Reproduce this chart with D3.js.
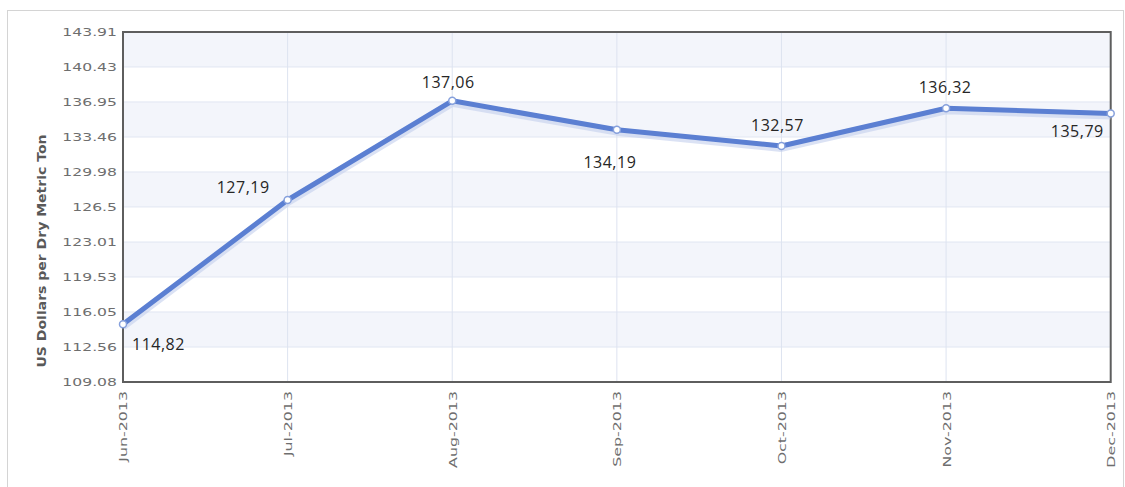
<!DOCTYPE html>
<html>
<head>
<meta charset="utf-8">
<script src="https://cdn.jsdelivr.net/npm/d3@7"></script>
<style>
  body { margin: 0; background: #fff; }
</style>
</head>
<body>
<script>
// data
var months = ["Jun-2013", "Jul-2013", "Aug-2013", "Sep-2013", "Oct-2013", "Nov-2013", "Dec-2013"];
var prices = [114.82, 127.19, 137.06, 134.19, 132.57, 136.32, 135.79];
var yTicks = [109.08, 112.56, 116.05, 119.53, 123.01, 126.5, 129.98, 133.46, 136.95, 140.43, 143.91];

// where each value label sits relative to its point: [dx, dy, anchor]
var labelPos = [[9, 26, "start"], [-18, -7, "end"], [-4, -13, "middle"], [-7, 38, "middle"],
                [-4, -15, "middle"], [-1, -15, "middle"], [-7, 23, "end"]];

var width = 1125,
    height = 487;

var plotLeft = 123, plotRight = 1110.7, plotTop = 32, plotBottom = 382;

var svg = d3.select("body")
    .append("svg")
    .attr("width", width)
    .attr("height", height);

// outer frame
svg.append("rect")
    .attr("x", 7.5).attr("y", 10.5)
    .attr("width", 1116).attr("height", 490)
    .style("fill", "none")
    .style("stroke", "#d4d4d4");

var x = d3.scalePoint().domain(months).range([plotLeft, plotRight]);
var y = d3.scaleLinear().domain([yTicks[0], yTicks[yTicks.length - 1]]).range([plotBottom, plotTop]);

// alternating bands
var bands = [];
for (var i = 0; i < yTicks.length - 1; i++) {
    if ((yTicks.length - 2 - i) % 2 == 0) bands.push([yTicks[i], yTicks[i + 1]]);
}
svg.selectAll(".band")
    .data(bands)
    .enter().append("rect")
        .attr("class", "band")
        .attr("x", plotLeft)
        .attr("width", plotRight - plotLeft)
        .attr("y", function(d) { return y(d[1]); })
        .attr("height", function(d) { return y(d[0]) - y(d[1]); })
        .style("fill", "#f3f5fb");

// grid lines
svg.selectAll(".hgrid")
    .data(yTicks)
    .enter().append("line")
        .attr("x1", plotLeft).attr("x2", plotRight)
        .attr("y1", function(d) { return y(d); })
        .attr("y2", function(d) { return y(d); })
        .style("stroke", "#e1e6f2")
        .style("stroke-width", 1);

svg.selectAll(".vgrid")
    .data(months)
    .enter().append("line")
        .attr("x1", function(d) { return x(d); })
        .attr("x2", function(d) { return x(d); })
        .attr("y1", plotTop).attr("y2", plotBottom)
        .style("stroke", "#dde3f0")
        .style("stroke-width", 1);

// plot border
svg.append("rect")
    .attr("x", plotLeft).attr("y", plotTop)
    .attr("width", plotRight - plotLeft).attr("height", plotBottom - plotTop)
    .style("fill", "none")
    .style("stroke", "#5e5e5e")
    .style("stroke-width", 2);

// y axis
var yAxis = svg.append("g")
    .attr("transform", "translate(" + plotLeft + ",0)")
    .call(d3.axisLeft(y).tickValues(yTicks).tickSize(0).tickFormat(function(d) { return String(d); }));
yAxis.select(".domain").remove();
yAxis.selectAll("text")
    .attr("x", -6 / 1.42)
    .attr("dy", "0.36em")
    .attr("transform", "scale(1.42,1)")
    .style("font-family", "DejaVu Sans, Verdana, sans-serif")
    .style("font-size", "11px")
    .style("fill", "#6e6e6e");

// x axis
var xAxis = svg.append("g")
    .attr("transform", "translate(0," + plotBottom + ")")
    .call(d3.axisBottom(x).tickSize(0));
xAxis.select(".domain").remove();
xAxis.selectAll("text")
    .attr("x", 0).attr("y", 0)
    .attr("dy", "0.36em")
    .attr("transform", "translate(0,9) rotate(-90) scale(1.44,1)")
    .style("text-anchor", "end")
    .style("font-family", "DejaVu Sans, Verdana, sans-serif")
    .style("font-size", "11px")
    .style("fill", "#6e6e6e");

// y title
svg.append("text")
    .attr("transform", "translate(46,251) rotate(-90) scale(1.22,1)")
    .style("text-anchor", "middle")
    .style("font-family", "DejaVu Sans, Verdana, sans-serif")
    .style("font-weight", "bold")
    .style("font-size", "11.5px")
    .style("fill", "#595959")
    .text("US Dollars per Dry Metric Ton");

// line
var line = d3.line()
    .x(function(d, i) { return x(months[i]); })
    .y(function(d) { return y(d); });

svg.append("path")
    .datum(prices)
    .attr("d", line)
    .attr("transform", "translate(0,2)")
    .style("fill", "none")
    .style("stroke", "#c3cfec")
    .style("stroke-width", 8)
    .style("stroke-opacity", 0.6)
    .style("stroke-linejoin", "round");

svg.append("path")
    .datum(prices)
    .attr("d", line)
    .style("fill", "none")
    .style("stroke", "#5b7fd2")
    .style("stroke-width", 5)
    .style("stroke-linejoin", "round");

svg.selectAll(".dot")
    .data(prices)
    .enter().append("circle")
        .attr("class", "dot")
        .attr("cx", function(d, i) { return x(months[i]); })
        .attr("cy", function(d) { return y(d); })
        .attr("r", 3.5)
        .style("fill", "#fff")
        .style("stroke", "#86a0dc")
        .style("stroke-width", 1.5);

// value labels
svg.selectAll(".val")
    .data(prices)
    .enter().append("text")
        .attr("class", "val")
        .attr("x", function(d, i) { return x(months[i]) + labelPos[i][0]; })
        .attr("y", function(d, i) { return y(d) + labelPos[i][1]; })
        .style("text-anchor", function(d, i) { return labelPos[i][2]; })
        .style("font-family", "Open Sans, sans-serif")
        .style("font-size", "16px")
        .style("letter-spacing", "0.5px")
        .style("fill", "#262626")
        .text(function(d) { return d.toFixed(2).replace(".", ","); });
</script>
</body>
</html>
